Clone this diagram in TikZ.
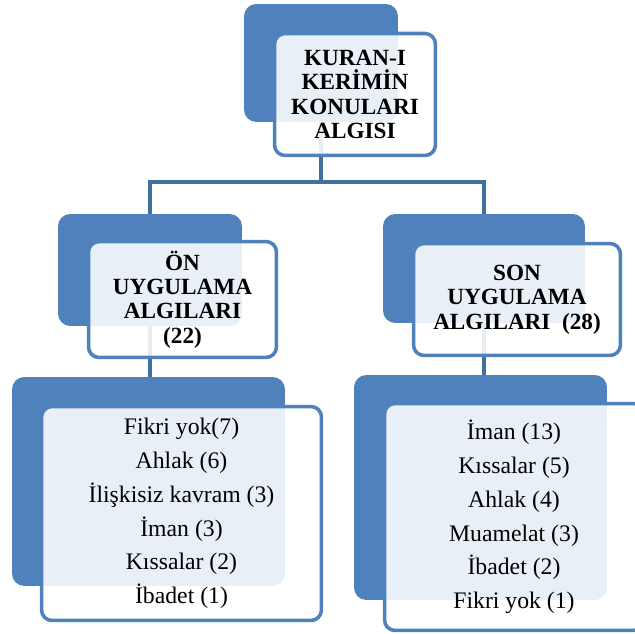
\documentclass[tikz,border=0pt]{standalone}
\usepackage{fontspec}
\setmainfont{Liberation Serif}
\usetikzlibrary{backgrounds}
\definecolor{boxblue}{HTML}{4F81BD}
\definecolor{linkblue}{HTML}{41709F}
\tikzset{
	backbox/.style = {
		rectangle,
		rounded corners=7pt,
		fill=boxblue,
		inner sep=0pt
	},
	frontbox/.style = {
		rectangle,
		rounded corners=6pt,
		draw=boxblue,
		line width=2pt,
		fill=white,
		fill opacity=0.88,
		text opacity=1,
		align=center,
		inner sep=0pt
	},
	headtext/.style = {
		font=\fontsize{13.2}{13.9}\selectfont\bfseries
	},
	listtext/.style = {
		font=\fontsize{13.5}{19.2}\selectfont
	},
	link/.style = {
		draw=linkblue,
		line width=2.2pt
	}
}

\begin{document}
\begin{tikzpicture}[x=0.02cm,y=-0.02cm]
\useasboundingbox (0,0) rectangle (635,634);
\clip (0,0) rectangle (635,634);
% top
\node [backbox, minimum width=3.08cm, minimum height=2.36cm] (topback) at (321,63) {};
\node [frontbox, headtext, minimum width=3.22cm, minimum height=2.44cm] (topfront) at (355,94.5)
	{KURAN-I\\KER\.{I}M\.{I}N\\KONULARI\\ALGISI};
% second row
\node [backbox, minimum width=3.68cm, minimum height=2.24cm] (preback) at (150,270) {};
\node [frontbox, headtext, minimum width=3.76cm, minimum height=2.32cm] (prefront) at (182.5,299.5)
	{ÖN\\UYGULAMA\\ALGILARI\\(22)};
\node [backbox, minimum width=4.04cm, minimum height=2.18cm] (postback) at (484,268.5) {};
\node [frontbox, headtext, minimum width=4.14cm, minimum height=2.24cm] (postfront) at (517,299.5)
	{SON\\UYGULAMA\\ALGILARI\ \ (28)};
% lists
\node [backbox, minimum width=5.46cm, minimum height=4.18cm] (prelistback) at (148.5,481.5) {};
\node [frontbox, listtext, minimum width=5.6cm, minimum height=4.28cm] (prelist) at (181.5,513.5)
	{Fikri yok(7)\\Ahlak (6)\\İlişkisiz kavram (3)\\İman (3)\\Kıssalar (2)\\İbadet (1)};
\node [backbox, minimum width=5.06cm, minimum height=4.5cm] (postlistback) at (480.5,487.5) {};
\node [frontbox, listtext, minimum width=5.18cm, minimum height=4.54cm] (postlist) at (514,517)
	{İman (13)\\Kıssalar (5)\\Ahlak (4)\\Muamelat (3)\\İbadet (2)\\Fikri yok (1)};
% connectors
\coordinate (bus) at (321,182);
\begin{pgfonlayer}{background}
\draw [link] (topback.south) -- (bus);
\draw [link] (preback.north) |- (bus) -| (postback.north);
\draw [link] (preback.south) -- (preback.south |- prelistback.north);
\draw [link] (postback.south) -- (postback.south |- postlistback.north);
\end{pgfonlayer}
\end{tikzpicture}
\end{document}
